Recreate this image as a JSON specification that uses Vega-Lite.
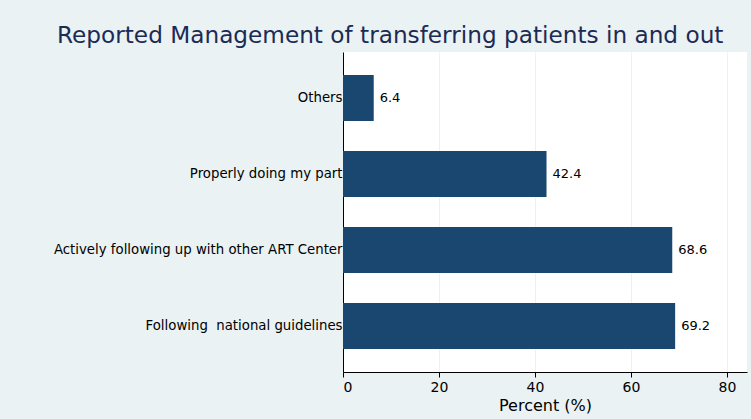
{
  "$schema": "https://vega.github.io/schema/vega-lite/v6.json",
  "autosize": {"type": "none"},
  "padding": {"left": 343, "top": 52, "right": 4, "bottom": 47},
  "width": 404,
  "height": 320,
  "background": "#eaf2f3",
  "title": {
    "text": "Reported Management of transferring patients in and out",
    "frame": "group",
    "anchor": "start",
    "dx": -286,
    "dy": 21,
    "offset": 7,
    "baseline": "alphabetic",
    "font": "DejaVu Sans",
    "fontSize": 23.2,
    "fontWeight": "normal",
    "color": "#1c2b55"
  },
  "config": {
    "view": {"fill": "white", "stroke": null},
    "axis": {"labelFont": "DejaVu Sans", "titleFont": "DejaVu Sans", "labelColor": "#000000", "titleColor": "#000000", "domainColor": "#000000", "tickColor": "#000000"}
  },
  "data": {
    "values": [
      {"category": "Others", "percent": 6.4, "label": "6.4"},
      {"category": "Properly doing my part", "percent": 42.4, "label": "42.4"},
      {"category": "Actively following up with other ART Center", "percent": 68.6, "label": "68.6"},
      {"category": "Following\u00a0 national guidelines", "percent": 69.2, "label": "69.2"}
    ]
  },
  "encoding": {
    "y": {
      "field": "category",
      "type": "nominal",
      "sort": null,
      "scale": {"paddingInner": 0.395, "paddingOuter": 0.3025},
      "axis": {"title": null, "ticks": false, "labelPadding": 1, "labelFontSize": 13.3, "labelLimit": 400, "domainWidth": 1}
    },
    "x": {
      "field": "percent",
      "type": "quantitative",
      "scale": {"domain": [0, 84.17], "nice": false},
      "axis": {
        "values": [0, 20, 40, 60, 80],
        "title": "Percent (%)",
        "titleFontSize": 16,
        "titleFontWeight": "normal",
        "titlePadding": 3,
        "labelFontSize": 14,
        "labelPadding": 3,
        "tickSize": 5,
        "grid": true,
        "gridColor": "#eaf2f3",
        "gridWidth": 1,
        "domainWidth": 1
      }
    }
  },
  "layer": [
    {"mark": {"type": "bar", "color": "#1a476f"}},
    {
      "mark": {"type": "text", "align": "left", "dx": 6, "font": "DejaVu Sans", "fontSize": 13, "color": "#000000"},
      "encoding": {"text": {"field": "label"}}
    }
  ]
}
